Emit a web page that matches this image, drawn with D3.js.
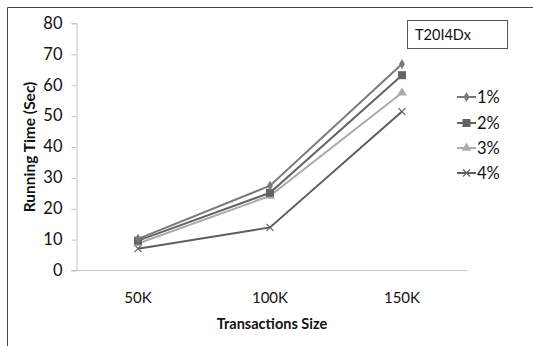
<!DOCTYPE html>
<html>
<head>
<meta charset="utf-8">
<script src="https://cdn.jsdelivr.net/npm/d3@7"></script>
<style>
  body { margin: 0; background: #fff; }
  text { font-family: Lato, "Open Sans", sans-serif; fill: #111; }
</style>
</head>
<body>
<svg id="chart" width="533" height="346"></svg>
<script>
// data
var sizes = ["50K", "100K", "150K"];
var seriesNames = ["1%", "2%", "3%", "4%"];
var s1 = [10.1, 27.3, 66.7];
var s2 = [9.5, 25.0, 63.1];
var s3 = [8.6, 24.0, 57.4];
var s4 = [6.9, 13.8, 51.3];
var yTicks = [0, 10, 20, 30, 40, 50, 60, 70, 80];

var allSeries = [s1, s2, s3, s4];
var colors = ["#7a7a7a", "#646464", "#ababab", "#5e5e5e"];
var markers = ["diamond", "square", "triangle", "cross"];

var svg = d3.select("#chart");

// outer frame
svg.append("path")
  .attr("d", "M533,7.5 H7.5 V346")
  .attr("fill", "none")
  .attr("stroke", "#444")
  .attr("stroke-width", 1);

var x = d3.scalePoint().domain(sizes).range([138, 402]).padding(0);
var y = d3.scaleLinear().domain([0, 80]).range([270, 23]);

// y axis
var yAxis = svg.append("g")
  .attr("transform", "translate(76.5,0)")
  .call(d3.axisLeft(y).tickValues(yTicks).tickSize(5).tickPadding(9));
yAxis.select(".domain").attr("stroke", "#c4c4c4").attr("d", "M-5," + (y(80)+0.5) + "H0.5V" + (y(0)+0.5));
yAxis.selectAll(".tick line").attr("stroke", "#c4c4c4").attr("transform", "translate(0,0.5)");
yAxis.selectAll(".tick text").style("font-size", "16.5px").style("font-family", "Lato, sans-serif").attr("fill", "#111");

// x axis line
svg.append("line")
  .attr("x1", 71).attr("x2", 467)
  .attr("y1", y(0) + 0.5).attr("y2", y(0) + 0.5)
  .attr("stroke", "#c4c4c4");

svg.selectAll(".xlab")
  .data(sizes)
  .enter().append("text")
  .attr("class", "xlab")
  .attr("x", function(d) { return x(d); })
  .attr("y", 303)
  .attr("text-anchor", "middle")
  .style("font-size", "15px")
  .text(function(d) { return d; });

// axis titles
svg.append("text")
  .attr("x", 272).attr("y", 329)
  .attr("text-anchor", "middle")
  .style("font-size", "14.5px").style("font-weight", "bold")
  .text("Transactions Size");

svg.append("text")
  .attr("transform", "translate(35,147) rotate(-90)")
  .attr("text-anchor", "middle")
  .style("font-size", "15.5px").style("font-weight", "bold")
  .text("Running Time (Sec)");

function drawMarker(g, type, cx, cy, color) {
  if (type === "diamond") {
    g.append("path").attr("d", d3.symbol(d3.symbolDiamond, 30)()).attr("transform", "translate(" + cx + "," + cy + ")").attr("fill", color);
  } else if (type === "square") {
    g.append("rect").attr("x", cx - 4).attr("y", cy - 4).attr("width", 8).attr("height", 8).attr("fill", color);
  } else if (type === "triangle") {
    g.append("path").attr("d", d3.symbol(d3.symbolTriangle, 40)()).attr("transform", "translate(" + cx + "," + cy + ")").attr("fill", color);
  } else {
    g.append("path").attr("d", "M-3.5,-3.5L3.5,3.5M-3.5,3.5L3.5,-3.5").attr("transform", "translate(" + cx + "," + cy + ")").attr("stroke", color).attr("stroke-width", 1.2).attr("fill", "none");
  }
}

var line = d3.line()
  .x(function(d, i) { return x(sizes[i]); })
  .y(function(d) { return y(d); });

// draw 4% first so top series sit above
for (var k = allSeries.length - 1; k >= 0; k--) {
  var g = svg.append("g");
  g.append("path")
    .datum(allSeries[k])
    .attr("d", line)
    .attr("fill", "none")
    .attr("stroke", colors[k])
    .attr("stroke-width", 2);
  allSeries[k].forEach(function(v, i) {
    drawMarker(g, markers[k], x(sizes[i]), y(v), colors[k]);
  });
}

// title box
svg.append("rect")
  .attr("x", 407.5).attr("y", 20.5).attr("width", 100).attr("height", 28)
  .attr("fill", "#fff").attr("stroke", "#555");
svg.append("text")
  .attr("x", 415).attr("y", 40)
  .style("font-size", "14.5px")
  .text("T20I4Dx");

// legend
var legY = [97, 123, 148, 173];
seriesNames.forEach(function(name, k) {
  var lg = svg.append("g");
  lg.append("line")
    .attr("x1", 457).attr("x2", 476)
    .attr("y1", legY[k]).attr("y2", legY[k])
    .attr("stroke", colors[k]).attr("stroke-width", 2);
  drawMarker(lg, markers[k], 466.5, legY[k], colors[k]);
  lg.append("text")
    .attr("x", 477).attr("y", legY[k] + 6)
    .style("font-size", "16.5px")
    .text(name);
});
</script>
</body>
</html>
